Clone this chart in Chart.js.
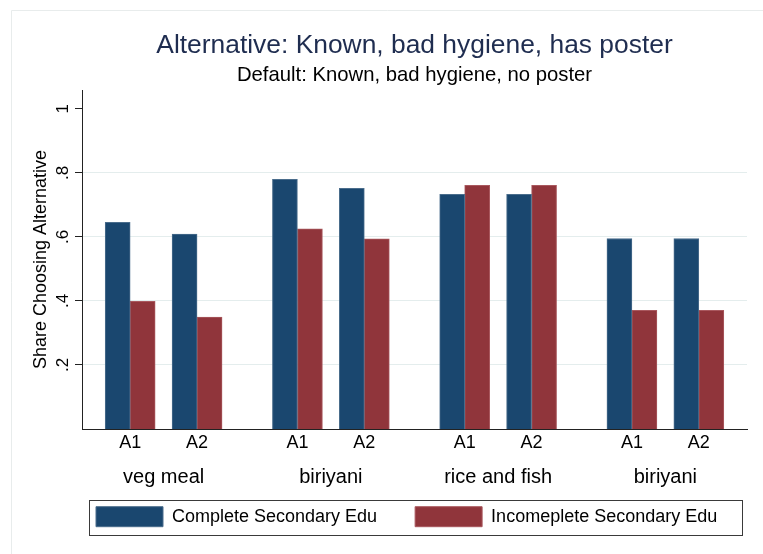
<!DOCTYPE html>
<html>
<head>
<meta charset="utf-8">
<script src="https://cdn.jsdelivr.net/npm/chart.js@4.4.1/dist/chart.umd.min.js"></script>
<style>html,body{margin:0;padding:0;background:#fff}canvas{display:block}</style>
</head>
<body>
<canvas id="c" width="763" height="554"></canvas>
<script>
// ---- data ----
const groups = ['veg meal', 'biriyani', 'rice and fish', 'biriyani'];
const subLabels = ['A1', 'A2'];
const seriesNames = ['Complete Secondary Edu', 'Incomeplete Secondary Edu'];
const completeSecondary = [0.646, 0.609, 0.780, 0.752, 0.733, 0.733, 0.595, 0.595];
const incompleteSecondary = [0.399, 0.350, 0.625, 0.594, 0.761, 0.761, 0.371, 0.371];
const yTickValues = [0.2, 0.4, 0.6, 0.8, 1];
const yTickLabels = ['.2', '.4', '.6', '.8', '1'];
const titleText = 'Alternative: Known, bad hygiene, has poster';
const subtitleText = 'Default: Known, bad hygiene, no poster';
const yAxisTitle = 'Share Choosing Alternative';

// ---- layout helpers ----
const GROUP_STEP = 2.5, EDGE = 0.72;
const pos = [];
groups.forEach((g, gi) => subLabels.forEach((s, si) => pos.push(gi * GROUP_STEP + si)));
const groupCenters = groups.map((g, gi) => gi * GROUP_STEP + (subLabels.length - 1) / 2);
const xMin = -EDGE, xMax = pos[pos.length - 1] + EDGE;
const FONT = "'Liberation Sans', Arial, Helvetica, sans-serif";
const NAVY = '#1a476f', MAROON = '#90353b';

const framePlugin = {
  id: 'frame',
  beforeDraw(chart) {
    const c = chart.ctx;
    c.save();
    c.fillStyle = '#fff';
    c.fillRect(0, 0, chart.width, chart.height);
    c.strokeStyle = '#e8ecec';
    c.lineWidth = 1;
    c.beginPath();
    c.moveTo(11.5, chart.height); c.lineTo(11.5, 10.5); c.lineTo(chart.width, 10.5);
    c.stroke();
    c.restore();
  }
};

const legendPlace = {
  id: 'legendPlace',
  afterLayout(chart) {
    const lg = chart.legend;
    if (!lg || !lg.lineWidths) return;
    const P = lg.options.labels.padding;
    const top = chart.chartArea.bottom + 77.7 - P;
    const h = lg.height;
    lg.top = top; lg.bottom = top + h;
    const start = (lg.left + P + lg.right - lg.lineWidths[0]) / 2;
    const delta = chart.chartArea.left + 14 - start;
    lg.left += delta; lg.right += delta;
  },
  afterDraw(chart) {
    const lg = chart.legend;
    if (!lg || !lg.legendHitBoxes || !lg.legendHitBoxes.length) return;
    const hb = lg.legendHitBoxes[0];
    const c = chart.ctx;
    const x0 = Math.round(hb.left - 7.5) + 0.5;
    const y0 = Math.round(hb.top - 6.5) + 0.5;
    const x1 = Math.round(chart.chartArea.right - 5.5) + 0.5;
    const y1 = Math.round(hb.top + 20 + 8) + 0.5;
    c.save();
    c.strokeStyle = '#3a3a3a';
    c.lineWidth = 1;
    c.strokeRect(x0, y0, x1 - x0, y1 - y0);
    c.restore();
  }
};

new Chart(document.getElementById('c').getContext('2d'), {
  type: 'bar',
  data: {
    datasets: [
      {
        label: seriesNames[0],
        data: completeSecondary.map((v, i) => ({ x: pos[i], y: v })),
        backgroundColor: NAVY,
        borderColor: '#4a6d8c',
        borderWidth: 1,
        barThickness: 25,
        xAxisID: 'x', yAxisID: 'y'
      },
      {
        label: seriesNames[1],
        data: incompleteSecondary.map((v, i) => ({ x: pos[i], y: v })),
        backgroundColor: MAROON,
        borderColor: '#a9585e',
        borderWidth: 1,
        barThickness: 25,
        xAxisID: 'x', yAxisID: 'y'
      }
    ]
  },
  options: {
    responsive: false,
    animation: false,
    devicePixelRatio: 1,
    layout: { padding: { left: 0, right: 16, top: 0, bottom: -3 } },
    scales: {
      x: {
        type: 'linear', position: 'bottom', min: xMin, max: xMax, offset: false, weight: 0,
        grid: { display: false, drawTicks: false },
        border: { display: true, color: '#222', width: 1 },
        ticks: {
          autoSkip: false, maxRotation: 0, minRotation: 0, padding: 3.2, color: '#000',
          font: { family: FONT, size: 18 },
          callback: (v) => { const i = pos.indexOf(v); return i < 0 ? '' : subLabels[i % subLabels.length]; }
        },
        afterBuildTicks: (s) => { s.ticks = pos.map(v => ({ value: v })); },
        afterFit: (s) => { s.height = 22; }
      },
      x2: {
        type: 'linear', position: 'bottom', min: xMin, max: xMax, offset: false, weight: 1,
        grid: { display: false, drawTicks: false },
        border: { display: false },
        ticks: {
          autoSkip: false, maxRotation: 0, minRotation: 0, padding: 14.5, color: '#000',
          font: { family: FONT, size: 20 },
          callback: (v) => { const i = groupCenters.indexOf(v); return i < 0 ? '' : groups[i]; }
        },
        afterBuildTicks: (s) => { s.ticks = groupCenters.map(v => ({ value: v })); },
        afterFit: (s) => { s.height = 38; }
      },
      y: {
        type: 'linear', position: 'left', min: 0, max: 1.059,
        grid: {
          color: (c) => (c.tick && c.tick.value >= 1) ? 'rgba(0,0,0,0)' : '#e4eded',
          lineWidth: 1, drawTicks: true, tickLength: 7, tickColor: '#222', tickWidth: 1
        },
        border: { display: true, color: '#222', width: 1 },
        ticks: {
          minRotation: 90, maxRotation: 90, crossAlign: 'center', padding: 5, color: '#000',
          font: { family: FONT, size: 17 },
          callback: (v) => { const i = yTickValues.indexOf(v); return i < 0 ? '' : yTickLabels[i]; }
        },
        afterBuildTicks: (s) => { s.ticks = yTickValues.map(v => ({ value: v })); },
        afterFit: (s) => { s.width = 82; },
        title: {
          display: true, text: yAxisTitle, color: '#000',
          font: { family: FONT, size: 18 }, padding: { top: 30, bottom: 0 }
        }
      }
    },
    plugins: {
      title: {
        display: true, text: titleText, fullSize: false, color: '#1f2d50',
        font: { family: FONT, size: 26.4, weight: 'normal' }, padding: { top: 29.7, bottom: 0 }
      },
      subtitle: {
        display: true, text: subtitleText, fullSize: false, color: '#000',
        font: { family: FONT, size: 20.3, weight: 'normal' }, padding: { top: 1.9, bottom: 2.36 }
      },
      legend: {
        display: true, position: 'bottom', fullSize: true, align: 'center',
        labels: { boxWidth: 67, boxHeight: 20, padding: 38, color: '#000', font: { family: FONT, size: 18 } }
      },
      tooltip: { enabled: false }
    }
  },
  plugins: [framePlugin, legendPlace]
});
</script>
</body>
</html>
